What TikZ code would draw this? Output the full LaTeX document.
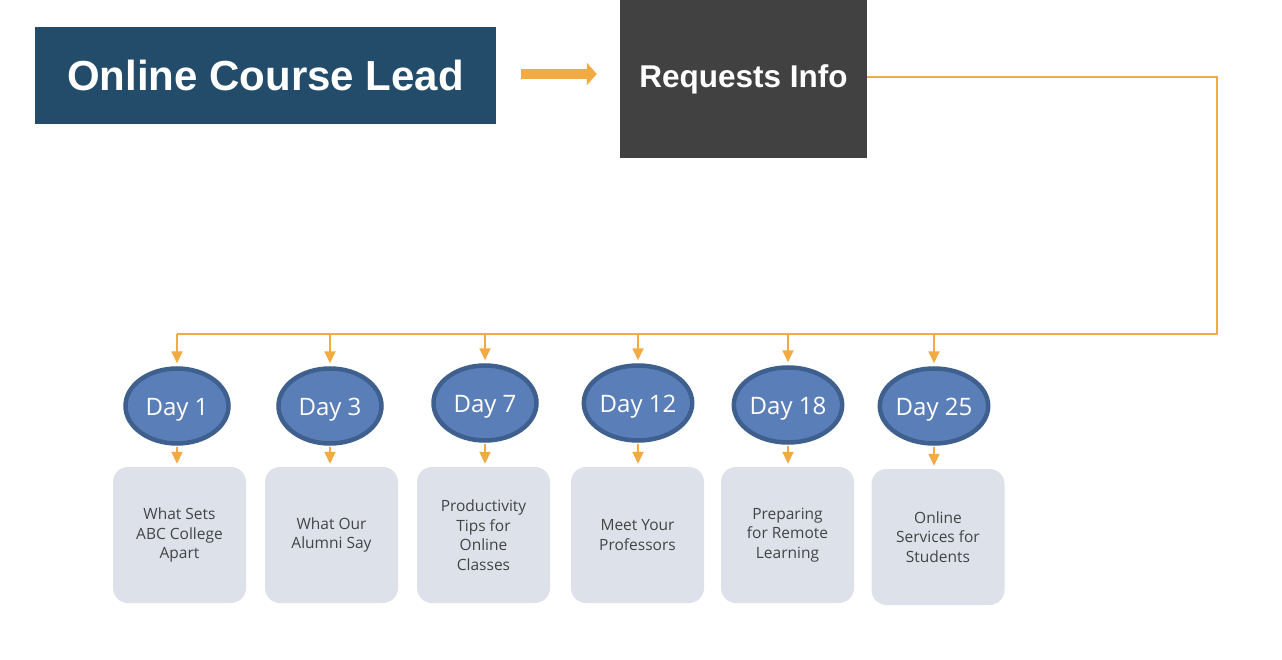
\documentclass[tikz,border=0pt]{standalone}
\usepackage{fontspec}
\setmainfont{Open Sans}
\newfontfamily\headfont{Liberation Sans}
\usetikzlibrary{arrows.meta,shapes.geometric}
\definecolor{leadblue}{HTML}{234C6B}
\definecolor{reqgrey}{HTML}{414141}
\definecolor{orng}{HTML}{F2AA42}
\definecolor{dayfill}{HTML}{5A7FB8}
\definecolor{dayedge}{HTML}{3F5F8E}
\definecolor{boxfill}{HTML}{DCE1EA}
\definecolor{boxtext}{HTML}{444444}
\tikzset{
  leadbox/.style={fill=leadblue, text=white, font=\headfont\bfseries\fontsize{42}{46}\selectfont, inner sep=0pt},
  reqbox/.style={fill=reqgrey, text=white, font=\headfont\bfseries\fontsize{31.5}{36}\selectfont, inner sep=0pt},
  dayell/.style={ellipse, fill=dayfill, draw=dayedge, line width=4.5pt, minimum width=103pt, minimum height=75pt, inner sep=0pt, text=white, text height=23pt, text depth=5pt, font=\fontsize{24}{28}\selectfont},
  topicbox/.style={fill=boxfill, rounded corners=15pt, minimum width=133pt, minimum height=136pt, inner sep=0pt, align=center, text=boxtext, font=\fontsize{15.5}{19.5}\selectfont},
  conn/.style={draw=orng, line width=1.8pt},
  arr/.style={conn, -{Triangle[width=11pt,length=12pt]}},
  bigarr/.style={draw=orng, line width=10pt, -{Triangle[width=22pt,length=10pt]}}
}
\begin{document}
\begin{tikzpicture}[x=1pt,y=-1pt]
\useasboundingbox (0,0) rectangle (1282,660);
\fill[white] (0,0) rectangle (1282,660);

\node[leadbox, minimum width=461pt, minimum height=97pt] (lead) at (265.5,75.5) {Online Course Lead};
\node[reqbox, minimum width=247pt, minimum height=158pt] (req) at (743.5,79) {Requests Info};
\draw[bigarr, shorten <=25pt, shorten >=23pt] (lead.east |- 0,74) -- (req.west |- 0,74);

\node[dayell] (d1) at (177,406) {Day 1};
\node[dayell] (d2) at (330,406) {Day 3};
\node[dayell] (d3) at (485,403) {Day 7};
\node[dayell] (d4) at (638,403) {Day 12};
\node[dayell] (d5) at (788,405) {Day 18};
\node[dayell] (d6) at (934,406) {Day 25};

\node[topicbox] (b1) at (179.5,535) {What Sets\\ABC College\\Apart};
\node[topicbox] (b2) at (331.5,535) {What Our\\Alumni Say};
\node[topicbox] (b3) at (483.5,535) {Productivity\\Tips for\\Online\\Classes};
\node[topicbox] (b4) at (637.5,535) {Meet Your\\Professors};
\node[topicbox] (b5) at (787.5,535) {Preparing\\for Remote\\Learning};
\node[topicbox] (b6) at (938,537) {Online\\Services for\\Students};

\coordinate (corner) at (1217,334);
\coordinate (busleft) at (177,334);
\draw[conn] (req.east |- 0,77) -| (corner) -- (busleft);

\draw[arr, shorten >=3pt] (busleft) -- (d1.north);
\draw[arr, shorten >=3pt] (d2.north |- corner) -- (d2.north);
\draw[arr, shorten >=3pt] (d3.north |- corner) -- (d3.north);
\draw[arr, shorten >=3pt] (d4.north |- corner) -- (d4.north);
\draw[arr, shorten >=3pt] (d5.north |- corner) -- (d5.north);
\draw[arr, shorten >=3pt] (d6.north |- corner) -- (d6.north);

\draw[arr, shorten <=1pt, shorten >=3pt] (d1.south) -- (d1.south |- b1.north);
\draw[arr, shorten <=1pt, shorten >=3pt] (d2.south) -- (d2.south |- b2.north);
\draw[arr, shorten <=1pt, shorten >=3pt] (d3.south) -- (d3.south |- b3.north);
\draw[arr, shorten <=1pt, shorten >=3pt] (d4.south) -- (d4.south |- b4.north);
\draw[arr, shorten <=1pt, shorten >=3pt] (d5.south) -- (d5.south |- b5.north);
\draw[arr, shorten <=1pt, shorten >=3pt] (d6.south) -- (d6.south |- b6.north);
\end{tikzpicture}
\end{document}
